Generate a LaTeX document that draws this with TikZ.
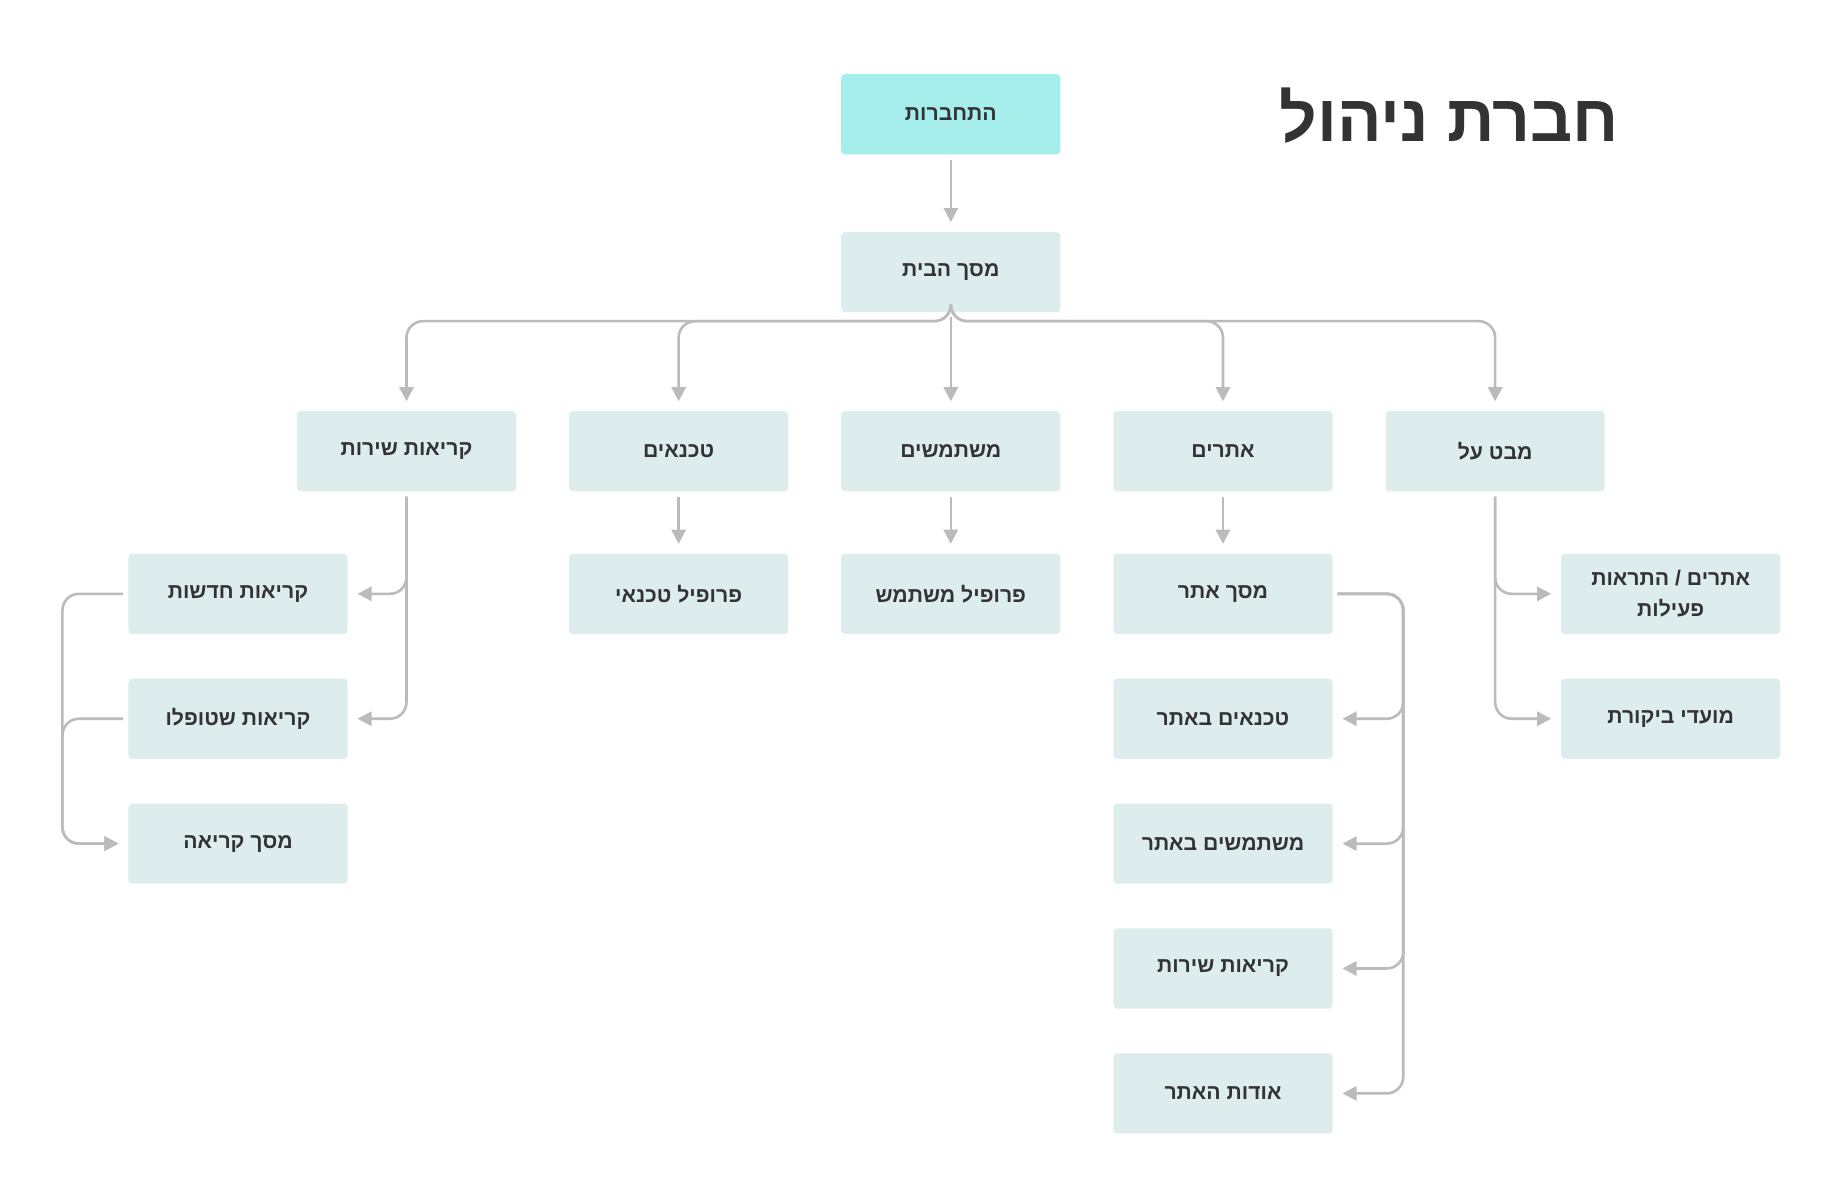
\documentclass[tikz,border=0pt]{standalone}
\usepackage{fontspec}
\setmainfont{Liberation Sans}
\newfontfamily\hebfont[Script=Hebrew]{Liberation Sans}
\TeXXeTstate=1
\usetikzlibrary{arrows.meta}
\definecolor{boxfill}{HTML}{DDEDED}
\definecolor{topfill}{HTML}{A6EEEC}
\definecolor{linegray}{HTML}{BBBBBB}
\definecolor{textdark}{HTML}{333333}
\newcommand{\heb}[1]{{\hebfont\beginR #1\endR}}
\tikzset{
  screen/.style={fill=boxfill, rounded corners=1.5pt, minimum width=93pt, minimum height=34pt,
    inner sep=2pt, align=center, text=textdark, font=\bfseries\fontsize{9}{13}\selectfont},
  start/.style={screen, fill=topfill},
  conn/.style={draw=linegray, line width=1.1pt, rounded corners=7pt, shorten >=4pt, shorten <=2pt,
    -{Triangle[length=6pt,width=6pt]}}
}
\begin{document}
\begin{tikzpicture}[x=0.5pt,y=0.5pt,yscale=-1]
\useasboundingbox (0,0) rectangle (1560,1018);

% title
\node[text=textdark, font=\bfseries\fontsize{28}{32}\selectfont] (title) at (1230,98) {\heb{חברת ניהול}};

% top
\node[start] (login) at (807,97) {\heb{התחברות}};
\node[screen] (home) at (807,231) {\heb{מסך הבית}};

% second row
\node[screen] (calls) at (345,383) {\heb{קריאות שירות}};
\node[screen] (techs) at (576,383) {\heb{טכנאים}};
\node[screen] (users) at (807,383) {\heb{משתמשים}};
\node[screen] (sites) at (1038,383) {\heb{אתרים}};
\node[screen] (overview) at (1269,383) {\heb{מבט על}};

% third row
\node[screen] (newcalls) at (202,504) {\heb{קריאות חדשות}};
\node[screen] (donecalls) at (202,610) {\heb{קריאות שטופלו}};
\node[screen] (callscr) at (202,716) {\heb{מסך קריאה}};
\node[screen] (techprof) at (576,504) {\heb{פרופיל טכנאי}};
\node[screen] (userprof) at (807,504) {\heb{פרופיל משתמש}};
\node[screen] (sitescr) at (1038,504) {\heb{מסך אתר}};
\node[screen] (sitetechs) at (1038,610) {\heb{טכנאים באתר}};
\node[screen] (siteusers) at (1038,716) {\heb{משתמשים באתר}};
\node[screen] (sitecalls) at (1038,822) {\heb{קריאות שירות}};
\node[screen] (siteabout) at (1038,928) {\heb{אודות האתר}};
\node[screen] (alerts) at (1418,504) {\heb{אתרים / התראות}\\\heb{פעילות}};
\node[screen] (audits) at (1418,610) {\heb{מועדי ביקורת}};

% connectors
\draw[conn] (login) -- (home);
\foreach \n in {calls,techs,sites,overview}
  \draw[conn] (home.south) |- ([yshift=-38pt]\n.north) -- (\n.north);
\draw[conn] (home) -- (users);
\draw[conn] (techs) -- (techprof);
\draw[conn] (users) -- (userprof);
\draw[conn] (sites) -- (sitescr);
\foreach \n in {newcalls,donecalls}
  \draw[conn] (calls.south) |- (\n.east);
\foreach \n in {alerts,audits}
  \draw[conn] (overview.south) |- (\n.west);
\coordinate (siterail) at (1191,504);
\foreach \n in {sitetechs,siteusers,sitecalls,siteabout}
  \draw[conn] (sitescr.east) -| (siterail |- \n.east) -- (\n.east);
\coordinate (leftrail) at (53,504);
\foreach \n in {newcalls,donecalls}
  \draw[conn] (\n.west) -| (leftrail |- callscr.west) -- (callscr.west);
\end{tikzpicture}
\end{document}
